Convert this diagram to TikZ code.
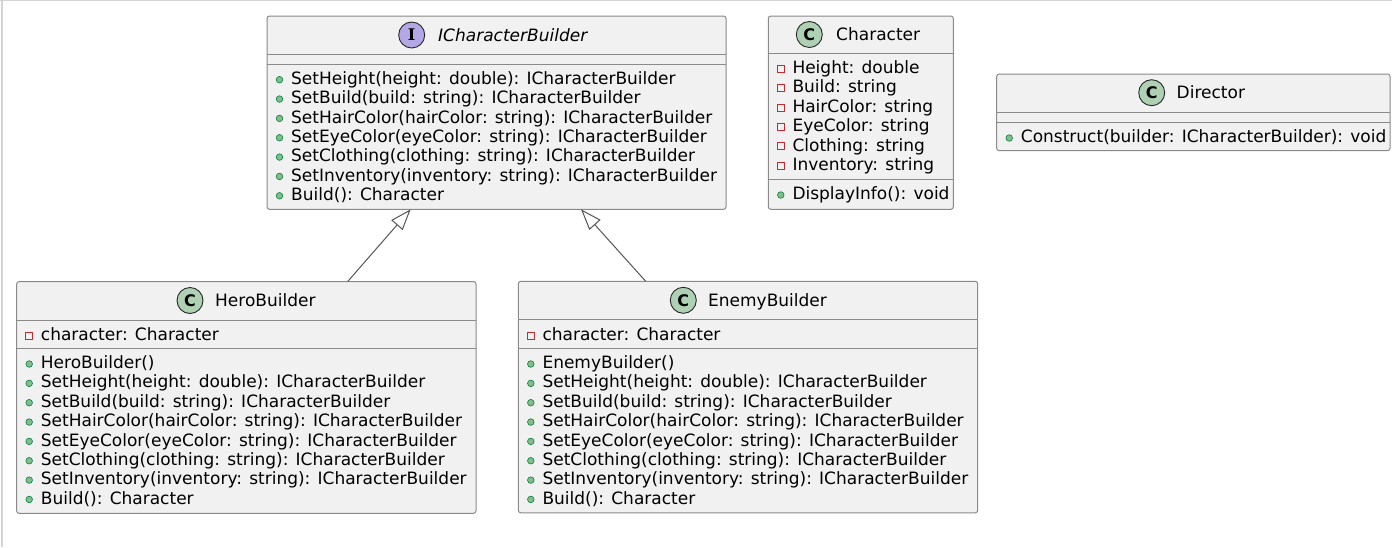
\documentclass[tikz,border=0pt]{standalone}
\usepackage{fontspec}
\setmainfont{DejaVu Sans}
\newfontfamily\spotserif{DejaVu Serif}
\usetikzlibrary{arrows.meta}
\definecolor{boxfill}{HTML}{F1F1F1}
\definecolor{boxline}{HTML}{8A8A8A}
\definecolor{cgreen}{HTML}{ADD1B2}
\definecolor{ipurple}{HTML}{B4A7E5}
\definecolor{pubfill}{HTML}{84BE84}
\definecolor{publine}{HTML}{038048}
\definecolor{privline}{HTML}{C82930}
\definecolor{frameline}{HTML}{D4D4D4}
\definecolor{edgeline}{HTML}{555555}
\tikzset{
  classbox/.style={draw=boxline, fill=boxfill, line width=1pt, rounded corners=2.5pt, inner sep=0pt, outer sep=0pt, anchor=north west},
  sepline/.style={draw=boxline, line width=1pt},
  rowtext/.style={inner sep=0pt, anchor=base west, font=\fontsize{17}{20}\selectfont},
  titletext/.style={inner sep=0pt, anchor=base west, font=\fontsize{17}{20}\selectfont},
  spot/.style={circle, draw=black!85, line width=0.9pt, minimum size=26pt, inner sep=0pt, font=\fontsize{16}{16}\selectfont\bfseries},
  pubmark/.style={fill=pubfill, draw=publine, line width=0.6pt},
  privmark/.style={draw=privline, line width=0.9pt, fill=none},
  inherit/.style={draw=edgeline, line width=1pt, -{Triangle[open, length=21pt, width=15pt, fill=white]}},
  frameedge/.style={draw=frameline, line width=1.2pt},
}
\newcommand{\pubrow}[4]{%
  \fill[pubmark] (#2+12.5,#3-4.6) circle (3.3);
  \node[rowtext] (#1) at (#2+24,#3) {#4};
}
\newcommand{\privrow}[4]{%
  \draw[privmark] (#2+9,#3-8.1) rectangle (#2+16,#3-1.1);
  \node[rowtext] (#1) at (#2+24,#3) {#4};
}
\begin{document}
\begin{tikzpicture}[x=1pt,y=-1pt]
\fill[white] (0,0) rectangle (1392,547);
\useasboundingbox (0,0) rectangle (1392,547);
\draw[frameedge] (0,0.6) -- (1392,0.6);
\draw[frameedge] (2,0) -- (2,547);

% ICharacterBuilder
\node[classbox, minimum width=459pt, minimum height=193.3pt] (icb) at (267,16) {};
\draw[sepline] (267,54) -- (726,54);
\draw[sepline] (267,64) -- (726,64);
\node[spot, fill=ipurple, font=\fontsize{16}{16}\selectfont\spotserif\bfseries] (icb-spot) at (411.7,35) {I};
\node[titletext, font=\fontsize{17}{20}\selectfont\itshape] (icb-title) at (438,41.2) {ICharacterBuilder};
\pubrow{icb-m1}{267}{84.3}{SetHeight(height: double): ICharacterBuilder}
\pubrow{icb-m2}{267}{103.65}{SetBuild(build: string): ICharacterBuilder}
\pubrow{icb-m3}{267}{123.0}{SetHairColor(hairColor: string): ICharacterBuilder}
\pubrow{icb-m4}{267}{142.35}{SetEyeColor(eyeColor: string): ICharacterBuilder}
\pubrow{icb-m5}{267}{161.7}{SetClothing(clothing: string): ICharacterBuilder}
\pubrow{icb-m6}{267}{181.05}{SetInventory(inventory: string): ICharacterBuilder}
\pubrow{icb-m7}{267}{200.4}{Build(): Character}

% Character
\node[classbox, minimum width=185pt, minimum height=193.3pt] (chr) at (768.3,16) {};
\draw[sepline] (768.3,53.3) -- (953.3,53.3);
\draw[sepline] (768.3,179.3) -- (953.3,179.3);
\node[spot, fill=cgreen] (chr-spot) at (809.3,34.5) {C};
\node[titletext] (chr-title) at (836,40.7) {Character};
\privrow{chr-a1}{768.3}{73.6}{Height: double}
\privrow{chr-a2}{768.3}{92.95}{Build: string}
\privrow{chr-a3}{768.3}{112.3}{HairColor: string}
\privrow{chr-a4}{768.3}{131.65}{EyeColor: string}
\privrow{chr-a5}{768.3}{151.0}{Clothing: string}
\privrow{chr-a6}{768.3}{170.35}{Inventory: string}
\pubrow{chr-m1}{768.3}{199.6}{DisplayInfo(): void}

% Director
\node[classbox, minimum width=393.3pt, minimum height=76.7pt] (dir) at (996.7,74) {};
\draw[sepline] (996.7,112.7) -- (1390,112.7);
\draw[sepline] (996.7,122.3) -- (1390,122.3);
\node[spot, fill=cgreen] (dir-spot) at (1151.7,92.7) {C};
\node[titletext] (dir-title) at (1176.5,98.9) {Director};
\pubrow{dir-m1}{996.7}{142.6}{Construct(builder: ICharacterBuilder): void}

% HeroBuilder
\node[classbox, minimum width=459.3pt, minimum height=231.8pt] (hero) at (16.7,281.5) {};
\draw[sepline] (16.7,320) -- (476,320);
\draw[sepline] (16.7,348.3) -- (476,348.3);
\node[spot, fill=cgreen] (hero-spot) at (190,300.5) {C};
\node[titletext] (hero-title) at (215,306.7) {HeroBuilder};
\privrow{hero-a1}{16.7}{340.3}{character: Character}
\pubrow{hero-m1}{16.7}{368.6}{HeroBuilder()}
\pubrow{hero-m2}{16.7}{387.95}{SetHeight(height: double): ICharacterBuilder}
\pubrow{hero-m3}{16.7}{407.3}{SetBuild(build: string): ICharacterBuilder}
\pubrow{hero-m4}{16.7}{426.65}{SetHairColor(hairColor: string): ICharacterBuilder}
\pubrow{hero-m5}{16.7}{446.0}{SetEyeColor(eyeColor: string): ICharacterBuilder}
\pubrow{hero-m6}{16.7}{465.35}{SetClothing(clothing: string): ICharacterBuilder}
\pubrow{hero-m7}{16.7}{484.7}{SetInventory(inventory: string): ICharacterBuilder}
\pubrow{hero-m8}{16.7}{504.05}{Build(): Character}

% EnemyBuilder
\node[classbox, minimum width=459.4pt, minimum height=231.5pt] (enemy) at (518.3,281.3) {};
\draw[sepline] (518.3,319.5) -- (977.7,319.5);
\draw[sepline] (518.3,348.3) -- (977.7,348.3);
\node[spot, fill=cgreen] (enemy-spot) at (683.3,300.3) {C};
\node[titletext] (enemy-title) at (708,306.5) {EnemyBuilder};
\privrow{enemy-a1}{518.3}{340.3}{character: Character}
\pubrow{enemy-m1}{518.3}{368.6}{EnemyBuilder()}
\pubrow{enemy-m2}{518.3}{387.95}{SetHeight(height: double): ICharacterBuilder}
\pubrow{enemy-m3}{518.3}{407.3}{SetBuild(build: string): ICharacterBuilder}
\pubrow{enemy-m4}{518.3}{426.65}{SetHairColor(hairColor: string): ICharacterBuilder}
\pubrow{enemy-m5}{518.3}{446.0}{SetEyeColor(eyeColor: string): ICharacterBuilder}
\pubrow{enemy-m6}{518.3}{465.35}{SetClothing(clothing: string): ICharacterBuilder}
\pubrow{enemy-m7}{518.3}{484.7}{SetInventory(inventory: string): ICharacterBuilder}
\pubrow{enemy-m8}{518.3}{504.05}{Build(): Character}

% inheritance
\draw[inherit] ([xshift=331pt]hero.north west) -- ([xshift=143.7pt]icb.south west);
\draw[inherit] ([xshift=127.4pt]enemy.north west) -- ([xshift=314pt]icb.south west);
\end{tikzpicture}
\end{document}
